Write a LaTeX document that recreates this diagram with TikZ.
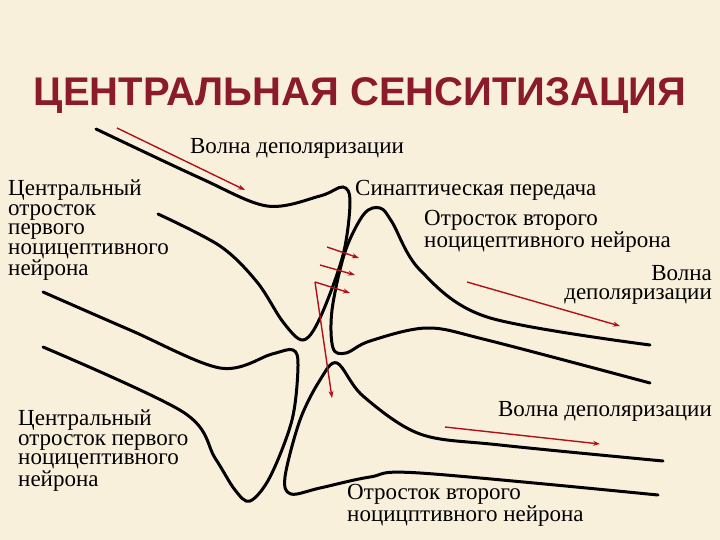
\documentclass[tikz,border=0pt]{standalone}
\usepackage{fontspec}
\setmainfont{Liberation Serif}
\newfontfamily\titlefont{Liberation Sans}
\usetikzlibrary{arrows.meta}
\definecolor{bg}{HTML}{F9F0DC}
\definecolor{ttl}{HTML}{8B1A2B}
\definecolor{arr}{HTML}{B0101A}
\tikzset{
 nerve/.style={line width=3pt, black, line cap=round},
 wave/.style={line width=1.4pt, arr, -{Stealth[length=7pt,width=5pt]}},
 lbl/.style={font=\fontsize{23}{19.5}\selectfont, inner sep=0pt, align=left},
}
\begin{document}
\begin{tikzpicture}[x=1pt,y=-1pt]
\fill[bg] (0,0) rectangle (720,540);
\useasboundingbox (0,0) rectangle (720,540);
\node[font=\titlefont\bfseries\fontsize{40}{42}\selectfont, text=ttl] (title) at (360,96) {ЦЕНТРАЛЬНАЯ СЕНСИТИЗАЦИЯ};
% nerves
\draw[nerve] plot[smooth, tension=0.55] coordinates {(96,129) (200,178) (267,206) (320,196) (343,187) (350,202) (343,255) (320,318) (303,340) (283,322) (257,282) (220,246) (158,214)};
\draw[nerve] plot[smooth, tension=0.55] coordinates {(650,345) (487,317) (420,270) (392,222) (380,208) (364,214) (345,252) (332,310) (333,348) (346,353) (370,341) (427,328) (487,340) (650,383)};
\draw[nerve] plot[smooth, tension=0.55] coordinates {(43,292) (130,330) (220,368) (272,354) (293,350) (298,366) (292,420) (270,477) (250,501) (235,490) (215,458) (183,412) (43,347)};
\draw[nerve] plot[smooth, tension=0.55] coordinates {(663,461) (500,445) (420,434) (363,396) (337,363) (320,380) (300,420) (285,477) (291,494) (320,488) (370,477) (420,473) (658,495)};
% arrows
\coordinate (a1s) at (117,128); \coordinate (a1e) at (245,190);
\draw[wave] (a1s) -- (a1e);
\coordinate (s1) at (327,247); \coordinate (e1) at (359,258);
\coordinate (s2) at (320,265); \coordinate (e2) at (355,275);
\coordinate (s3) at (315,282); \coordinate (e3) at (350,293);
\coordinate (s4) at (332,398);
\draw[wave] (s1) -- (e1);
\draw[wave] (s2) -- (e2);
\draw[wave] (s3) -- (e3);
\draw[wave] (s3) -- (s4);
\coordinate (r1s) at (467,282); \coordinate (r1e) at (620,326);
\draw[wave] (r1s) -- (r1e);
\coordinate (b1s) at (445,427); \coordinate (b1e) at (600,444);
\draw[wave] (b1s) -- (b1e);
% labels
\node[lbl, anchor=north] (t1) at (297,138) {Волна деполяризации};
\node[lbl, anchor=north west] (t2) at (8,180) {Центральный\\отросток\\первого\\ноцицептивного\\нейрона};
\node[lbl, anchor=north west] (t3) at (355,180) {Синаптическая передача};
\node[lbl, anchor=north west] (t4) at (424,210) {Отросток второго\\ноцицептивного нейрона};
\node[lbl, anchor=north east, align=right] (t5) at (712,265) {Волна\\деполяризации};
\node[lbl, anchor=north west] (t6) at (18,410) {Центральный\\отросток первого\\ноцицептивного\\нейрона};
\node[lbl, anchor=north east] (t7) at (712,401) {Волна деполяризации};
\node[lbl, anchor=north west] (t8) at (347,484) {Отросток второго\\ноцицптивного нейрона};
\end{tikzpicture}
\end{document}
